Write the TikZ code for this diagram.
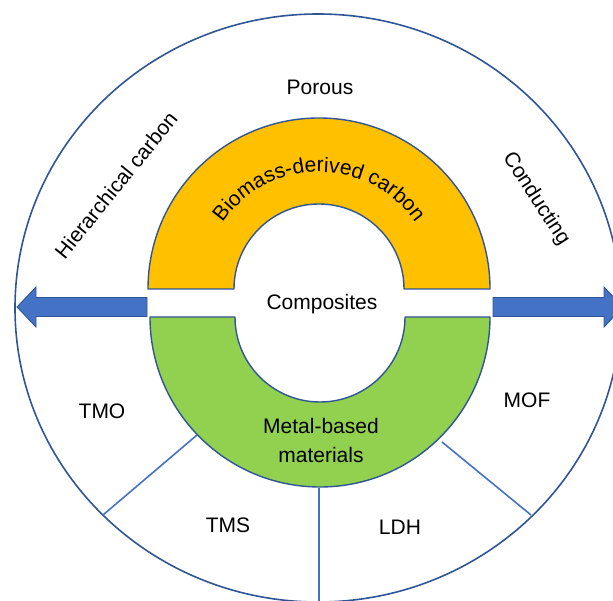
\documentclass[tikz,border=0pt]{standalone}
\usepackage{fontspec}
\setmainfont{Liberation Sans}
\usetikzlibrary{calc,decorations.text}
\definecolor{outlineblue}{RGB}{47,85,151}
\definecolor{lineblue}{RGB}{68,114,196}
\definecolor{ringyellow}{RGB}{255,192,0}
\definecolor{ringgreen}{RGB}{146,208,80}
\tikzset{
  rim/.style={draw=outlineblue, line width=1.6pt},
  ring/.style={draw=outlineblue, line width=1.4pt, line join=round},
  divider/.style={draw=lineblue, line width=1.6pt},
  bigarrow/.style={fill=lineblue, draw=outlineblue, line width=0.9pt, line join=miter},
  label/.style={font=\fontsize{21}{25}\selectfont, inner sep=0pt},
}
\begin{document}
\begin{tikzpicture}[x=1pt, y=1pt]
\useasboundingbox (0,0) rectangle (613,600);
\clip (0,0) rectangle (613,600);

% centres
\coordinate (ec) at (318,292);   % outer ellipse
\coordinate (yc) at (319,311);   % upper ring
\coordinate (gc) at (320,283);   % lower ring

% outer ellipse
\path[rim] (ec) ellipse [x radius=303, y radius=294];

% sector dividers of the lower band
\coordinate (d1a) at (197,165);
\coordinate (d1b) at (103,85);
\coordinate (d2a) at (442,158);
\coordinate (d2b) at (531,85);
\coordinate (d3a) at (319,112);
\coordinate (d3b) at (319,-5);
\draw[divider] (d1a) -- (d1b);
\draw[divider] (d2a) -- (d2b);
\draw[divider] (d3a) -- (d3b);

% upper half ring
\path[ring, fill=ringyellow]
  ([xshift=171pt]yc) arc[start angle=0, end angle=180, radius=171]
  -- ([xshift=-85pt]yc) arc[start angle=180, end angle=0, radius=85] -- cycle;

% lower half ring
\path[ring, fill=ringgreen]
  ([xshift=-170pt]gc) arc[start angle=180, end angle=360, radius=170]
  -- ([xshift=85pt]gc) arc[start angle=360, end angle=180, radius=85] -- cycle;

% horizontal arrows
\coordinate (la) at (147,293);
\coordinate (ra) at (493,293);
\path[bigarrow] (la) ++(0,9.5) -- (36,302.5) -- (36,313) -- (17,293)
  -- (36,273) -- (36,283.5) -- ([yshift=-9.5pt]la) -- cycle;
\path[bigarrow] (ra) ++(0,9.5) -- (604,302.5) -- (604,313) -- (623,293)
  -- (604,273) -- (604,283.5) -- ([yshift=-9.5pt]ra) -- cycle;

% curved title on the upper ring
\path[decorate, decoration={text along path, text align=center,
    text={|\fontsize{21}{25}\selectfont|Biomass-derived carbon}}]
  ([xshift=-117pt]yc) arc[start angle=180, end angle=0, radius=117];

% labels
\node[label] (porous) at (320,513) {Porous};
\node[label, rotate=51] (hier) at (116,415) {Hierarchical carbon};
\node[label, rotate=-57] (cond) at (536,401) {Conducting};
\node[label] (comp) at (322,296) {Composites};
\node[label, align=center, font=\fontsize{21}{29}\selectfont] (metal) at (321,160) {Metal-based\\materials};
\node[label] (tmo) at (102,189) {TMO};
\node[label] (mof) at (527,200) {MOF};
\node[label] (tms) at (228,75) {TMS};
\node[label] (ldh) at (400,73) {LDH};
\end{tikzpicture}
\end{document}
